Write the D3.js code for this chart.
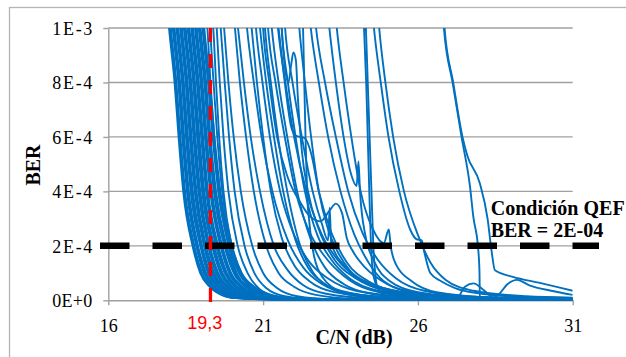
<!DOCTYPE html>
<html>
<head>
<meta charset="utf-8">
<script src="https://cdn.jsdelivr.net/npm/d3@7/dist/d3.min.js"></script>
<style>
  body { margin: 0; background: #fff; }
  text { font-family: "Liberation Serif", "Times New Roman", serif; }
</style>
</head>
<body>
<svg id="chart" width="626" height="357"></svg>
<script>
// BER values are kept in units of 1E-4
const cnTicks = [16, 21, 26, 31];
const berTicks = [0, 2, 4, 6, 8, 10];
const berTickLabels = ['0E+0', '2E-4', '4E-4', '6E-4', '8E-4', '1E-3'];
const qefBer = 2;            // BER = 2E-04
const qefLabel = ['Condición QEF', 'BER = 2E-04'];
const cnMarker = 19.3;
const cnMarkerLabel = '19,3';

// dense bundle: C/N (dB) where each curve crosses these BER levels
const bundleLevels = [13, 10, 8, 6, 4, 2, 1, 0.5, 0.2, 0.08, 0.04, 0.02];
const bundleCN = [
  [17.75, 17.96, 18.14, 18.27, 18.42, 18.72, 18.97, 19.27, 19.65, 20.10, 21.0, 31],
  [17.78, 17.99, 18.17, 18.30, 18.45, 18.75, 19.00, 19.30, 19.69, 20.14, 21.05, 31],
  [17.81, 18.02, 18.20, 18.33, 18.48, 18.78, 19.03, 19.33, 19.72, 20.18, 21.1, 31],
  [17.87, 18.08, 18.26, 18.39, 18.54, 18.84, 19.09, 19.40, 19.79, 20.26, 21.2, 31],
  [17.90, 18.11, 18.29, 18.42, 18.57, 18.87, 19.12, 19.43, 19.82, 20.30, 21.25, 31],
  [17.93, 18.14, 18.32, 18.45, 18.60, 18.90, 19.16, 19.46, 19.86, 20.34, 21.3, 31],
  [17.99, 18.20, 18.38, 18.51, 18.66, 18.97, 19.22, 19.53, 19.93, 20.42, 21.4, 31],
  [18.02, 18.23, 18.41, 18.54, 18.70, 19.00, 19.25, 19.56, 19.96, 20.46, 21.45, 31],
  [18.05, 18.26, 18.44, 18.57, 18.73, 19.03, 19.29, 19.60, 20.00, 20.50, 21.5, 31],
  [18.11, 18.32, 18.50, 18.63, 18.79, 19.09, 19.35, 19.66, 20.07, 20.58, 21.6, 31],
  [18.14, 18.35, 18.53, 18.66, 18.82, 19.12, 19.38, 19.70, 20.10, 20.62, 21.65, 31],
  [18.17, 18.38, 18.56, 18.69, 18.85, 19.16, 19.42, 19.73, 20.14, 20.66, 21.7, 31],
  [18.23, 18.44, 18.62, 18.75, 18.91, 19.22, 19.48, 19.80, 20.22, 20.75, 21.8, 31],
  [18.26, 18.47, 18.65, 18.78, 18.94, 19.25, 19.51, 19.83, 20.26, 20.80, 21.9, 31],
  [18.29, 18.50, 18.68, 18.81, 18.97, 19.28, 19.55, 19.87, 20.30, 20.84, 22.0, 31],
  [18.35, 18.56, 18.74, 18.87, 19.03, 19.35, 19.62, 19.94, 20.38, 20.93, 22.1, 31],
  [18.38, 18.59, 18.77, 18.91, 19.07, 19.38, 19.65, 19.98, 20.42, 20.98, 22.15, 31],
  [18.41, 18.62, 18.80, 18.94, 19.10, 19.42, 19.69, 20.02, 20.46, 21.02, 22.2, 31],
  [18.47, 18.68, 18.86, 19.00, 19.16, 19.48, 19.76, 20.10, 20.55, 21.12, 22.4, 31],
  [18.50, 18.71, 18.89, 19.03, 19.19, 19.52, 19.80, 20.14, 20.60, 21.17, 22.5, 31],
  [18.53, 18.74, 18.92, 19.06, 19.22, 19.55, 19.83, 20.18, 20.64, 21.22, 22.6, 31],
  [18.59, 18.80, 18.98, 19.12, 19.29, 19.62, 19.90, 20.26, 20.73, 21.33, 22.8, 31],
  [18.62, 18.83, 19.01, 19.15, 19.32, 19.65, 19.94, 20.30, 20.78, 21.38, 22.9, 31],
  [18.65, 18.86, 19.04, 19.18, 19.35, 19.68, 19.97, 20.34, 20.82, 21.44, 23.0, 31],
  [18.71, 18.92, 19.10, 19.24, 19.41, 19.75, 20.05, 20.43, 20.92, 21.56, 23.3, 31],
  [18.74, 18.95, 19.13, 19.27, 19.45, 19.79, 20.09, 20.48, 20.97, 21.62, 23.45, 31],
  [18.77, 18.98, 19.16, 19.30, 19.48, 19.82, 20.13, 20.52, 21.02, 21.68, 23.6, 31],
  [18.83, 19.04, 19.22, 19.37, 19.55, 19.90, 20.22, 20.62, 21.14, 21.82, 24.0, 31],
  [18.86, 19.07, 19.25, 19.40, 19.59, 19.94, 20.27, 20.67, 21.20, 21.89, 24.2, 31],
  [18.89, 19.10, 19.28, 19.43, 19.62, 19.98, 20.31, 20.72, 21.26, 21.96, 24.5, 31]
];

// the scattered curves, [C/N dB, BER]
const otherCurves = [
  [[19.12, 11], [19.2, 10], [19.3, 8], [19.42, 6], [19.58, 4], [19.88, 2], [20.15, 1], [20.5, 0.45], [21.0, 0.15], [21.9, 0.04], [24, 0.01]],
  [[19.2, 11], [19.28, 10], [19.4, 8], [19.52, 6], [19.68, 4], [20.0, 2], [20.3, 1], [20.7, 0.45], [21.3, 0.15], [22.3, 0.04], [25, 0.01]],
  [[19.30, 11], [19.39, 10], [19.48, 8], [19.58, 6], [19.72, 4], [19.98, 2], [20.25, 1], [20.6, 0.45], [21.1, 0.15], [22, 0.04], [24, 0.01]],
  [[19.42, 11], [19.50, 10], [19.60, 8], [19.72, 6], [19.88, 4], [20.18, 2], [20.5, 1], [20.9, 0.4], [21.5, 0.12], [22.5, 0.03], [25, 0.01]],
  [[19.55, 11], [19.63, 10], [19.76, 8], [19.90, 6], [20.08, 4], [20.4, 2], [20.72, 1], [21.1, 0.45], [21.7, 0.15], [22.8, 0.04], [26, 0.01]],
  [[19.66, 11], [19.74, 10], [19.88, 8], [20.05, 6], [20.28, 4], [20.65, 2], [21.0, 1], [21.45, 0.45], [22.1, 0.15], [23.2, 0.04], [27, 0.01]],
  [[20.0, 11], [20.09, 10], [20.25, 8], [20.45, 6], [20.7, 4], [21.1, 2], [21.5, 1], [22.0, 0.5], [22.7, 0.2], [24, 0.06], [28, 0.02]],
  [[20.1, 11], [20.19, 10], [20.38, 8], [20.6, 6], [20.9, 4], [21.35, 2], [21.8, 1.1], [22.3, 0.55], [23.0, 0.25], [24.5, 0.08], [31, 0.03]],
  [[20.4, 11], [20.48, 10], [20.7, 8], [20.95, 6], [21.3, 4], [21.8, 2.2], [22.3, 1.2], [22.9, 0.6], [23.8, 0.25], [25.5, 0.08], [31, 0.03]],
  [[20.55, 11], [20.63, 10], [20.8, 8], [21.0, 6], [21.25, 4], [21.6, 2.3], [22.0, 1.3], [22.5, 0.7], [23.3, 0.3], [25, 0.1], [31, 0.04]],
  [[20.7, 11], [20.77, 10], [20.98, 8], [21.22, 6], [21.55, 4], [22.0, 2.4], [22.5, 1.4], [23.1, 0.8], [24, 0.35], [26, 0.1], [31, 0.05]],
  [[20.82, 11], [20.9, 10], [21.1, 8], [21.35, 6], [21.65, 4], [22.05, 2.2], [22.45, 1.2], [23.0, 0.6], [23.8, 0.25], [25.5, 0.08], [29, 0.03]],
  [[20.95, 11], [21.0, 10], [21.2, 8], [21.45, 6], [21.8, 4.5], [22.2, 3.6], [22.5, 3.1], [22.85, 2.9], [23.15, 3.3], [23.35, 3.55], [23.55, 3.2], [23.7, 2.3], [23.9, 1.8], [24.3, 1.2], [25, 0.6], [26, 0.25], [28, 0.08], [31, 0.04]],
  [[21.0, 11], [21.06, 10], [21.25, 8], [21.48, 6], [21.78, 4], [22.2, 2], [22.6, 1.05], [23.1, 0.5], [23.8, 0.2], [25, 0.06], [28, 0.02]],
  [[21.1, 11], [21.16, 10], [21.4, 8], [21.7, 6], [22.05, 4], [22.5, 2.5], [23.0, 1.6], [23.6, 0.9], [24.4, 0.4], [26, 0.12], [31, 0.05]],
  [[21.2, 11], [21.28, 10], [21.5, 8], [21.78, 6], [22.1, 4], [22.55, 2.2], [23.0, 1.2], [23.6, 0.6], [24.5, 0.25], [26.5, 0.08], [31, 0.03]],
  [[21.4, 11], [21.48, 10], [21.72, 8], [22.0, 6], [22.4, 4], [22.9, 2.4], [23.4, 1.5], [24.0, 0.85], [25, 0.4], [27, 0.12], [31, 0.06]],
  [[21.55, 11], [21.6, 10], [21.8, 8], [22.05, 6], [22.35, 4], [22.75, 2.4], [23.2, 1.5], [23.8, 0.8], [24.7, 0.35], [26.5, 0.1], [31, 0.04]],
  [[21.65, 11], [21.71, 10], [21.95, 8], [22.25, 6], [22.6, 4], [22.9, 2.8], [23.1, 2.2], [23.15, 3.4], [23.2, 2.1], [23.6, 1.3], [24.2, 0.7], [25.2, 0.3], [27, 0.1], [31, 0.05]],
  [[22.1, 11], [22.17, 10], [22.35, 8], [22.55, 6], [22.8, 4], [23.1, 2.6], [23.4, 1.8], [23.8, 1.1], [24.5, 0.6], [25.5, 0.3], [27.5, 0.12], [31, 0.06]],
  [[22.25, 11], [22.29, 10], [22.33, 8], [22.37, 6], [22.42, 4], [22.5, 2.8], [22.65, 1.6], [22.95, 0.8], [23.5, 0.35], [25, 0.12], [31, 0.04]],
  [[22.45, 11], [22.54, 10], [22.8, 8], [23.1, 6], [23.5, 4], [23.95, 2.4], [24.4, 1.4], [24.9, 0.7], [25.8, 0.3], [27.5, 0.1], [31, 0.05]],
  [[22.62, 11], [22.71, 10], [23.0, 8], [23.35, 6], [23.75, 4], [24.2, 2.5], [24.7, 1.5], [25.3, 0.8], [26.2, 0.35], [28, 0.12], [31, 0.06]],
  [[23.05, 11], [23.14, 10], [23.35, 8], [23.6, 6], [23.85, 4.6], [24.02, 4.2], [24.08, 5.1], [24.13, 4.0], [24.3, 2.4], [24.6, 1.4], [25.1, 0.7], [26, 0.3], [28, 0.1], [31, 0.05]],
  [[23.3, 11], [23.38, 10], [23.6, 8], [23.85, 6], [24.15, 4], [24.55, 2.6], [24.9, 2.1], [25.06, 2.6], [25.12, 2.0], [25.3, 1.3], [25.8, 0.7], [26.6, 0.3], [28.5, 0.1], [31, 0.06]],
  [[24.2, 11], [24.26, 10], [24.33, 8], [24.38, 6], [24.43, 4], [24.48, 2.2], [24.55, 1.0], [24.7, 0.5], [25.2, 0.25], [26.5, 0.1], [31, 0.05]],
  [[24.27, 11], [24.32, 10], [24.38, 8], [24.44, 6], [24.5, 4], [24.56, 2], [24.62, 1], [24.7, 0.45], [25.0, 0.15], [26, 0.05], [31, 0.02]],
  [[24.5, 11], [24.58, 10], [24.8, 8], [25.05, 6], [25.4, 4], [25.75, 2.6], [25.95, 2.25], [26.12, 2.2], [26.2, 1.8], [26.4, 1.0], [26.75, 0.7], [27.2, 0.45], [28, 0.25], [29.5, 0.12], [31, 0.08]],
  [[24.68, 11], [24.75, 10], [24.95, 8], [25.2, 6], [25.55, 4], [26.0, 2.4], [26.4, 1.4], [26.9, 0.75], [27.8, 0.35], [29.5, 0.15], [31, 0.1]],
  [[26.78, 11], [26.84, 10], [27.12, 8], [27.41, 6], [27.68, 4.2], [27.79, 3.07], [27.95, 1.85], [27.99, 1.0], [28.0, 0.1], [28.3, 0.02]],
  [[26.8, 11], [26.86, 10], [27.14, 8], [27.44, 6], [27.6, 5.3], [28.0, 4.3], [28.25, 3.0], [28.37, 1.9], [28.49, 1.1], [29.07, 0.86], [29.94, 0.64], [31, 0.35]],
  [[27.3, 0.05], [27.52, 0.5], [27.8, 0.62], [28.1, 0.4], [28.5, 0.05], [29, 0.01]],
  [[28.3, 0.02], [28.6, 0.2], [28.9, 0.6], [29.2, 0.75], [29.6, 0.55], [30.3, 0.35], [31, 0.2]],
  [[21.55, 11], [21.6, 10], [21.7, 8.6], [21.82, 8.0], [21.9, 8.6], [21.98, 9.1], [22.06, 8.8], [22.12, 7.5], [22.25, 5.5], [22.45, 4], [22.8, 2.6], [23.3, 1.5], [24, 0.8], [25, 0.35], [27, 0.1], [31, 0.05]],
  [[21.4, 11], [21.5, 10], [21.7, 8], [21.9, 6.4], [22.05, 6.05], [22.35, 5.95], [22.55, 5.4], [22.8, 4], [23.2, 2.5], [23.7, 1.4], [24.4, 0.7], [25.5, 0.3], [28, 0.1], [31, 0.05]]
];

const svg = d3.select('#chart');
const blue = '#0070c0';
const gridColor = '#a0a0a0';
const serif = '"Liberation Serif", "Times New Roman", serif';

const x = d3.scaleLinear().domain([16, 31]).range([108.3, 572.7]);
const y = d3.scaleLinear().domain([0, 10]).range([300.3, 28]);

svg.append('rect').attr('width', 626).attr('height', 357).attr('fill', '#fff');

// outer chart border
svg.append('rect')
  .attr('x', 9.5).attr('y', 7.5)
  .attr('width', 700).attr('height', 400)
  .attr('fill', 'none').attr('stroke', '#b4b4b4').attr('stroke-width', 1.3);

// horizontal gridlines
svg.append('g')
  .selectAll('line')
  .data(berTicks.filter(d => d > 0))
  .join('line')
  .attr('x1', x(16)).attr('x2', x(31))
  .attr('y1', d => y(d)).attr('y2', d => y(d))
  .attr('stroke', gridColor).attr('stroke-width', 1.4);

// y axis
const yAxis = svg.append('g')
  .attr('transform', `translate(${x(16)},0)`)
  .call(d3.axisLeft(y).tickValues(berTicks).tickSize(5).tickSizeOuter(0).tickPadding(11)
    .tickFormat((d, i) => berTickLabels[i]));

// x axis
const xAxis = svg.append('g')
  .attr('transform', `translate(0,${y(0)})`)
  .call(d3.axisBottom(x).tickValues(cnTicks).tickSize(5).tickSizeOuter(0).tickPadding(14)
    .tickFormat(d3.format('d')));

[yAxis, xAxis].forEach(ax => {
  ax.attr('font-family', serif).attr('font-size', 18);
  ax.select('.domain').attr('stroke', gridColor).attr('stroke-width', 1.4);
  ax.selectAll('.tick line').attr('stroke', gridColor).attr('stroke-width', 1.4);
  ax.selectAll('.tick text').attr('fill', '#000').style('font-family', serif);
});
// the reference's y labels run a little wider than the font gives
yAxis.selectAll('.tick text').attr('dy', '0.35em').attr('textLength', 40);

// curves
svg.append('defs').append('clipPath').attr('id', 'plot-clip')
  .append('rect')
  .attr('x', x(16)).attr('y', y(10))
  .attr('width', x(31) - x(16)).attr('height', y(0) - y(10) + 3);

const line = d3.line()
  .x(d => x(d[0]))
  .y(d => y(d[1]))
  .curve(d3.curveMonotoneX);

const bundleCurves = bundleCN.map(row => row.map((cn, i) => [cn, bundleLevels[i]]));

const curves = svg.append('g').attr('clip-path', 'url(#plot-clip)');
curves.selectAll('path')
  .data(bundleCurves.concat(otherCurves))
  .join('path')
  .attr('d', line)
  .attr('fill', 'none')
  .attr('stroke', blue)
  .attr('stroke-width', 1.9)
  .attr('stroke-linejoin', 'round');

// QEF threshold
svg.append('line')
  .attr('x1', 100).attr('x2', 599)
  .attr('y1', y(qefBer)).attr('y2', y(qefBer))
  .attr('stroke', '#000').attr('stroke-width', 6.5)
  .attr('stroke-dasharray', '29.5,23');

// C/N marker
svg.append('line')
  .attr('x1', x(cnMarker)).attr('x2', x(cnMarker))
  .attr('y1', y(10)).attr('y2', 303)
  .attr('stroke', '#ff0000').attr('stroke-width', 3.3)
  .attr('stroke-dasharray', '14,12');

svg.append('text')
  .attr('x', 204.7).attr('y', 329)
  .attr('text-anchor', 'middle')
  .style('font-family', '"Liberation Sans", Arial, sans-serif')
  .style('font-size', '18px')
  .attr('fill', '#ff0000')
  .text(cnMarkerLabel);

// labels
svg.append('g')
  .selectAll('text')
  .data(qefLabel)
  .join('text')
  .attr('x', 490.7)
  .attr('y', (d, i) => 215 + i * 21.5)
  .style('font-size', '20px').style('font-weight', 'bold')
  .text(d => d);

svg.append('text')
  .attr('x', 354).attr('y', 343.5)
  .attr('text-anchor', 'middle')
  .style('font-size', '20px').style('font-weight', 'bold')
  .text('C/N (dB)');

svg.append('text')
  .attr('transform', 'translate(39.5,165) rotate(-90)')
  .attr('text-anchor', 'middle')
  .style('font-size', '20px').style('font-weight', 'bold')
  .text('BER');
</script>
</body>
</html>
